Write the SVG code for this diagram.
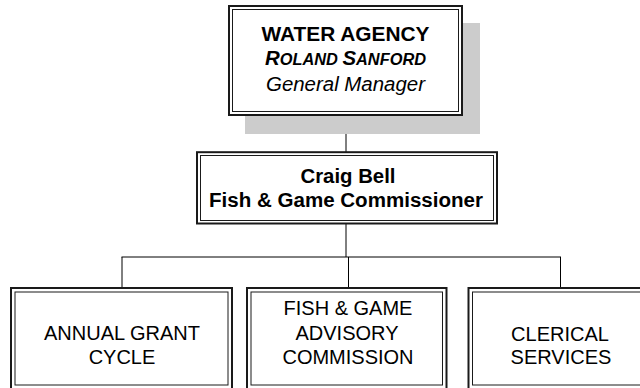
<svg xmlns="http://www.w3.org/2000/svg" width="640" height="388" viewBox="0 0 640 388">
<style>
.outer{fill:#fff;stroke:#1a1a1a;stroke-width:2}
.inner{fill:none;stroke:#1a1a1a;stroke-width:1}
.conn{fill:none;stroke:#000;stroke-width:1}
text{font-family:"Liberation Sans",Arial,sans-serif;fill:#000;text-anchor:middle}
.b{font-weight:bold}
.t{font-size:20px}
</style>
<rect x="0" y="0" width="640" height="388" fill="#fff"/>
<g id="connectors">
<line class="conn" x1="346" y1="116" x2="346" y2="152" stroke-width="1.5"/>
<line class="conn" x1="346" y1="224" x2="346" y2="257" stroke-width="2"/>
<line class="conn" x1="121.5" y1="257" x2="561" y2="257"/>
<line class="conn" x1="122" y1="257" x2="122" y2="288"/>
<line class="conn" x1="348.5" y1="257" x2="348.5" y2="288"/>
<line class="conn" x1="560.5" y1="257" x2="560.5" y2="288"/>
</g>
<g id="water-agency">
<rect x="245" y="23" width="235" height="111" fill="#cccccc"/>
<rect class="outer" x="229" y="6" width="233" height="109"/>
<rect class="inner" x="232.5" y="9.5" width="226" height="102"/>
<text class="t b" x="345.5" y="40.5" textLength="168" lengthAdjust="spacingAndGlyphs">WATER AGENCY</text>
<text class="b" x="345.5" y="65" font-style="italic" font-size="16" textLength="161" lengthAdjust="spacingAndGlyphs"><tspan font-size="20">R</tspan>OLAND <tspan font-size="20">S</tspan>ANFORD</text>
<text class="t" x="345.5" y="90.5" font-style="italic" textLength="159" lengthAdjust="spacingAndGlyphs">General Manager</text>
</g>
<g id="commissioner">
<rect class="outer" x="197" y="152.2" width="300" height="71.3"/>
<rect class="inner" x="200.5" y="155.5" width="293" height="65"/>
<text class="t b" x="348" y="182.5" textLength="95" lengthAdjust="spacingAndGlyphs">Craig Bell</text>
<text class="t b" x="346" y="206.5" textLength="274" lengthAdjust="spacingAndGlyphs">Fish &amp; Game Commissioner</text>
</g>
<g id="annual-grant">
<rect class="outer" x="11" y="288" width="221" height="102"/>
<rect class="inner" x="15" y="292" width="213" height="93"/>
<text class="t" x="122" y="339.5">ANNUAL GRANT</text>
<text class="t" x="122" y="363.5">CYCLE</text>
</g>
<g id="advisory">
<rect class="outer" x="247" y="288" width="199.5" height="102"/>
<rect class="inner" x="251" y="292" width="191.5" height="93"/>
<text class="t" x="348" y="315">FISH &amp; GAME</text>
<text class="t" x="347" y="339.5">ADVISORY</text>
<text class="t" x="348" y="363.5">COMMISSION</text>
</g>
<g id="clerical">
<rect class="outer" x="468.5" y="288" width="200" height="102"/>
<rect class="inner" x="472.5" y="292" width="200" height="93"/>
<text class="t" x="560" y="340.5">CLERICAL</text>
<text class="t" x="561" y="364">SERVICES</text>
</g>
</svg>
